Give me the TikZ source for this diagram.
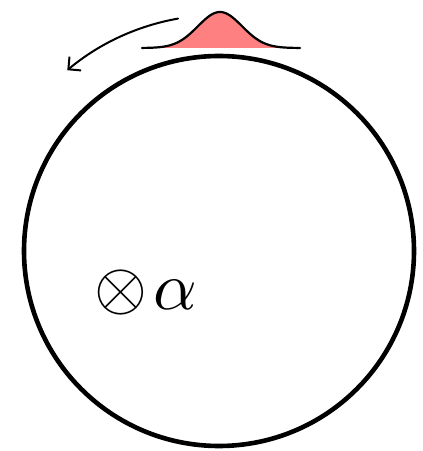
\documentclass[tikz,border=0pt]{standalone}
\usetikzlibrary{arrows.meta}
\definecolor{pulsered}{RGB}{255,128,128}
\begin{document}
\begin{tikzpicture}[
    x=1pt, y=1pt,
    ring/.style={line width=4.6pt},
    pulse/.style={line width=2.2pt, line cap=round},
    motion/.style={line width=2pt, line cap=round, -{Straight Barb[length=9pt, width=18pt]}}
  ]
  \useasboundingbox (0,0) rectangle (423,451);

  % the ring
  \coordinate (o) at (219,200);
  \draw[ring] (o) circle (195);

  % pulse sitting on top of the ring
  \fill[pulsered] plot[domain=142:300, samples=90, smooth]
    (\x, {403+36*exp(-((\x-220)/22)*((\x-220)/22)/2)}) -- cycle;
  \draw[pulse] plot[domain=142:300, samples=90, smooth]
    (\x, {403+36*exp(-((\x-220)/22)*((\x-220)/22)/2)});

  % direction of travel
  \draw[motion] ([shift={(100:236)}]o) arc[start angle=100, end angle=130, radius=236];

  % field pointing into the page
  \node[scale=6.8] (field) at (146,158) {$\otimes\mkern1.5mu\alpha$};
\end{tikzpicture}
\end{document}
